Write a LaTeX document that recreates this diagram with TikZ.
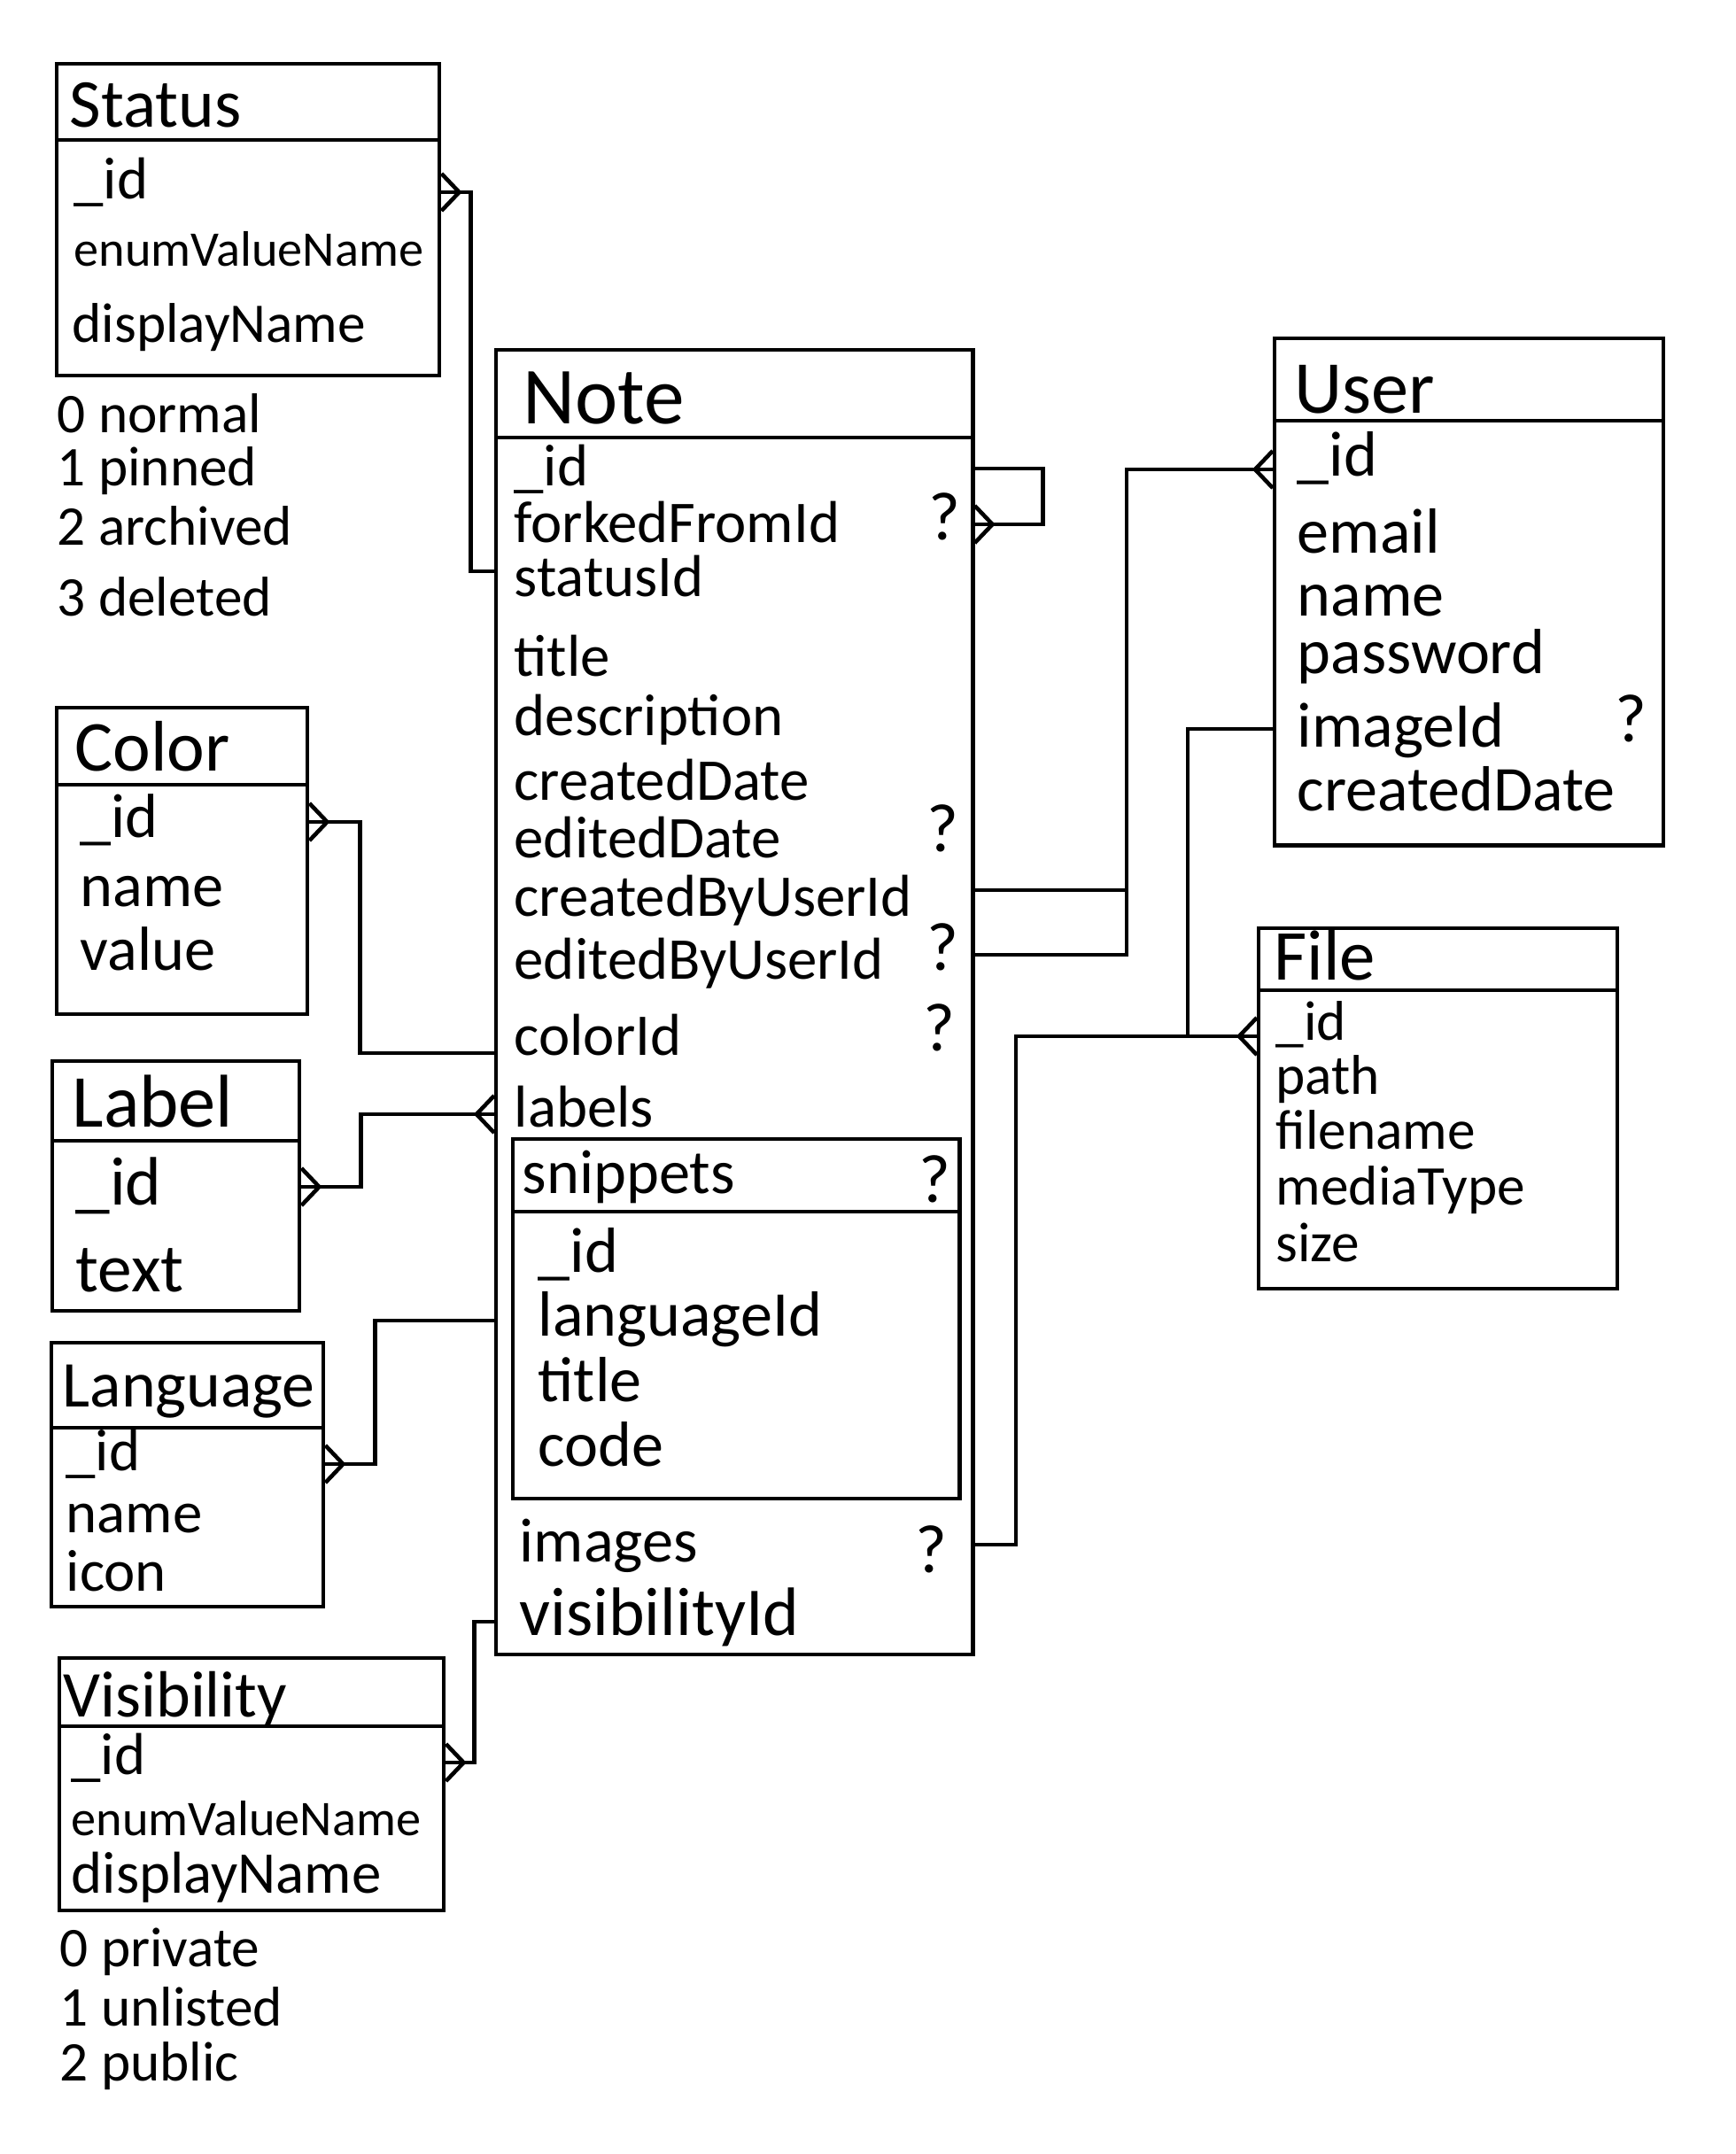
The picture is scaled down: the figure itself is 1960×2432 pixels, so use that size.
\documentclass[tikz,border=0pt]{standalone}
\usepackage{fontspec}
\setmainfont{Carlito}
\begin{document}
\begin{tikzpicture}[x=0.01cm, y=-0.01cm,
    ent/.style={draw, line width=1.2pt, inner sep=0pt, anchor=north west},
    sep/.style={line width=1.2pt},
    link/.style={line width=1.3pt},
    ttl/.style={anchor=base west, inner sep=0pt, font=\fontsize{24}{28}\selectfont},
    fld/.style={anchor=base west, inner sep=0pt, font=\fontsize{19}{22}\selectfont},
    fldsm/.style={fld, font=\fontsize{16}{19}\selectfont},
    ann/.style={fld, font=\fontsize{18}{21}\selectfont},
    opt/.style={anchor=base, inner sep=0pt, font=\fontsize{22}{26}\selectfont},
    pics/crow/.style={code={\draw[link] (0,-21) -- (20,0) -- (0,21);}}]

\useasboundingbox (0,0) rectangle (1960,2432);

% entity boxes
\node[ent, minimum width=4.32cm, minimum height=3.52cm] (status) at (62,70) {};
\node[ent, minimum width=5.38cm, minimum height=14.72cm] (note) at (558,393) {};
\node[ent, minimum width=5.04cm, minimum height=4.06cm] (snip) at (577,1284) {};
\node[ent, minimum width=4.39cm, minimum height=5.72cm] (user) at (1437,380) {};
\node[ent, minimum width=4.05cm, minimum height=4.07cm] (file) at (1419,1046) {};
\node[ent, minimum width=2.83cm, minimum height=3.46cm] (color) at (62,797) {};
\node[ent, minimum width=2.79cm, minimum height=2.82cm] (label) at (57,1196) {};
\node[ent, minimum width=3.07cm, minimum height=2.98cm] (lang) at (56,1514) {};
\node[ent, minimum width=4.34cm, minimum height=2.85cm] (visib) at (65,1870) {};

% title lines
\draw[sep] (status.west |- 0,158) -- (status.east |- 0,158);
\draw[sep] (note.west |- 0,494) -- (note.east |- 0,494);
\draw[sep] (snip.west |- 0,1368) -- (snip.east |- 0,1368);
\draw[sep] (user.west |- 0,475) -- (user.east |- 0,475);
\draw[sep] (file.west |- 0,1118) -- (file.east |- 0,1118);
\draw[sep] (color.west |- 0,886) -- (color.east |- 0,886);
\draw[sep] (label.west |- 0,1288) -- (label.east |- 0,1288);
\draw[sep] (lang.west |- 0,1612) -- (lang.east |- 0,1612);
\draw[sep] (visib.west |- 0,1949) -- (visib.east |- 0,1949);

% Status
\node[ttl, font=\fontsize{22}{26}\selectfont] (stT) at (78,143) {Status};
\node[fld] (st1) at (83,224) {\_id};
\node[fldsm] (st2) at (83,300) {enumValueName};
\node[fld, font=\fontsize{18}{22}\selectfont] (st3) at (81,386) {displayName};
\foreach \t/\y [count=\i] in {0 normal/488, 1 pinned/548, 2 archived/615, 3 deleted/695}
  \node[ann] (stv\i) at (64,\y) {\t};

% Note
\node[ttl, font=\fontsize{26}{30}\selectfont] (noT) at (590,478) {Note};
\foreach \t/\y [count=\i] in {\_id/548, forkedFromId/612, statusId/673, title/763,
    description/830, createdDate/903, editedDate/968, createdByUserId/1034,
    editedByUserId/1105, colorId/1191, labels/1272}
  \node[fld] (no\i) at (580,\y) {\t};
\node[opt] (noq1) at (1066,609) {?};
\node[opt] (noq2) at (1064,961) {?};
\node[opt] (noq3) at (1064,1095) {?};
\node[opt] (noq4) at (1060,1186) {?};
\node[fld, font=\fontsize{20}{24}\selectfont] (noI) at (586,1763) {images};
\node[opt] (noq6) at (1051,1775) {?};
\node[fld, font=\fontsize{22}{26}\selectfont] (noV) at (586,1846) {visibilityId};

% snippets
\node[fld, font=\fontsize{20}{24}\selectfont] (snT) at (589,1347) {snippets};
\node[opt] (noq5) at (1055,1357) {?};
\foreach \t/\y [count=\i] in {\_id/1436, languageId/1508, title/1582, code/1655}
  \node[fld, font=\fontsize{20.5}{24}\selectfont] (sn\i) at (607,\y) {\t};

% User
\node[ttl] (usT) at (1461,466) {User};
\foreach \t/\y [count=\i] in {\_id/537, email/624, name/695, password/760,
    imageId/843, createdDate/915}
  \node[fld, font=\fontsize{20.5}{24}\selectfont] (us\i) at (1464,\y) {\t};
\node[opt] (usq) at (1841,837) {?};

% File
\node[ttl, font=\fontsize{23}{27}\selectfont] (fiT) at (1438,1106) {File};
\foreach \t/\y [count=\i] in {\_id/1174, path/1235, filename/1297, mediaType/1360, size/1424}
  \node[fld, font=\fontsize{18}{21}\selectfont] (fi\i) at (1440,\y) {\t};

% Color
\node[ttl, font=\fontsize{23}{27}\selectfont] (coT) at (84,870) {Color};
\foreach \t/\y [count=\i] in {\_id/945, name/1023, value/1095}
  \node[fld, font=\fontsize{20}{24}\selectfont] (co\i) at (90,\y) {\t};

% Label
\node[ttl] (laT) at (81,1272) {Label};
\foreach \t/\y [count=\i] in {\_id/1360, text/1458}
  \node[fld, font=\fontsize{22}{26}\selectfont] (la\i) at (85,\y) {\t};

% Language
\node[ttl, font=\fontsize{21}{25}\selectfont] (lgT) at (70,1588) {Language};
\foreach \t/\y [count=\i] in {\_id/1660, name/1730, icon/1796}
  \node[fld] (lg\i) at (74,\y) {\t};

% Visibility
\node[ttl, font=\fontsize{21}{26}\selectfont] (viT) at (71,1938) {Visibility};
\node[fld] (vi1) at (80,2003) {\_id};
\node[fldsm] (vi2) at (80,2072) {enumValueName};
\node[fld, font=\fontsize{19}{22}\selectfont] (vi3) at (80,2137) {displayName};
\foreach \t/\y [count=\i] in {0 private/2220, 1 unlisted/2287, 2 public/2349}
  \node[ann] (viv\i) at (67,\y) {\t};

% relations
\coordinate (ujoin) at (1272,1005);
\coordinate (fjoin) at (1341,1170);

\draw[link] (status.east |- 0,217) -- ++(33,0) |- (note.west |- 0,645);
\pic at (status.east |- 0,217) {crow};

\draw[link] (note.east |- 0,529) -- ++(77,0) |- (note.east |- 0,592);
\pic at (note.east |- 0,592) {crow};

\draw[link] (user.west |- 0,530) -| (ujoin) |- (note.east |- 0,1078);
\draw[link] (note.east |- 0,1005) -- (ujoin);
\pic[xscale=-1] at (user.west |- 0,530) {crow};

\draw[link] (color.east |- 0,928) -- ++(57,0) |- (note.west |- 0,1189);
\pic at (color.east |- 0,928) {crow};

\draw[link] (label.east |- 0,1340) -- ++(67,0) |- (note.west |- 0,1258);
\pic at (label.east |- 0,1340) {crow};
\pic[xscale=-1] at (note.west |- 0,1258) {crow};

\draw[link] (lang.east |- 0,1653) -- ++(56,0) |- (note.west |- 0,1491);
\pic at (lang.east |- 0,1653) {crow};

\draw[link] (visib.east |- 0,1990) -- ++(32,0) |- (note.west |- 0,1831);
\pic at (visib.east |- 0,1990) {crow};

\draw[link] (file.west |- 0,1170) -- ++(-272,0) |- (note.east |- 0,1744);
\pic[xscale=-1] at (file.west |- 0,1170) {crow};

\draw[link] (user.west |- 0,823) -| (fjoin);
\end{tikzpicture}
\end{document}
